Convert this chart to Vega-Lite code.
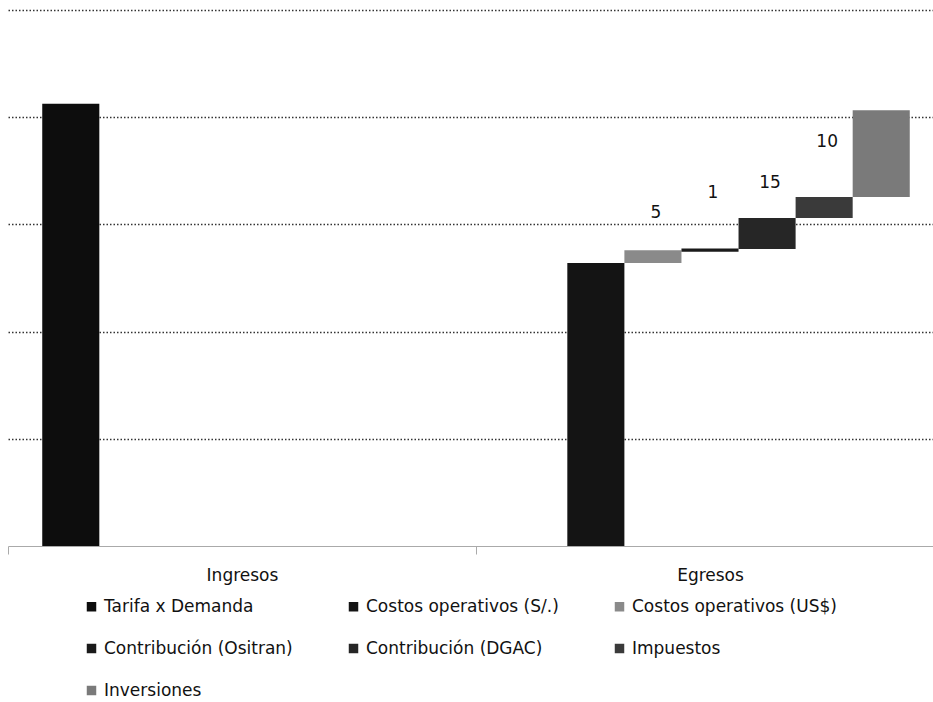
{
  "$schema": "https://vega.github.io/schema/vega-lite/v6.json",
  "autosize": "none",
  "width": 933,
  "height": 536,
  "padding": {"top": 10, "left": 0, "right": 0, "bottom": 156},
  "background": "white",
  "config": {
    "font": "DejaVu Sans",
    "view": {"stroke": null}
  },
  "datasets": {
    "bars": [
      {"category": "Ingresos", "series": "Tarifa x Demanda", "start": 0, "end": 82.5},
      {"category": "Egresos", "series": "Costos operativos (S/.)", "start": 0, "end": 52.8},
      {"category": "Egresos", "series": "Costos operativos (US$)", "start": 52.8, "end": 55.2},
      {"category": "Egresos", "series": "Contribución (Ositran)", "start": 54.9, "end": 55.5},
      {"category": "Egresos", "series": "Contribución (DGAC)", "start": 55.4, "end": 61.2},
      {"category": "Egresos", "series": "Impuestos", "start": 61.2, "end": 65.1},
      {"category": "Egresos", "series": "Inversiones", "start": 65.1, "end": 81.3}
    ],
    "labels": [
      {"category": "Egresos", "series": "Costos operativos (US$)", "pos": 62.1, "text": "5"},
      {"category": "Egresos", "series": "Contribución (Ositran)", "pos": 65.9, "text": "1"},
      {"category": "Egresos", "series": "Contribución (DGAC)", "pos": 67.7, "text": "15"},
      {"category": "Egresos", "series": "Impuestos", "pos": 75.4, "text": "10"}
    ]
  },
  "layer": [
    {
      "data": {"name": "bars"},
      "mark": {"type": "bar"},
      "encoding": {
        "x": {
          "field": "category", "type": "nominal", "sort": ["Ingresos", "Egresos"],
          "scale": {"range": [8, 944], "paddingInner": 0, "paddingOuter": 0},
          "axis": {
            "title": null, "labelAngle": 0, "labelFontSize": 17, "labelColor": "#111",
            "labelPadding": 13, "domainColor": "#aaaaaa", "tickColor": "#aaaaaa",
            "tickBand": "extent", "tickSize": 8, "grid": false
          }
        },
        "xOffset": {
          "field": "series", "type": "nominal",
          "scale": {
            "domain": ["Tarifa x Demanda", "Costos operativos (S/.)", "Costos operativos (US$)", "Contribución (Ositran)", "Contribución (DGAC)", "Impuestos", "Inversiones"],
            "paddingInner": 0, "paddingOuter": 0.6
          }
        },
        "y": {
          "field": "start", "type": "quantitative",
          "scale": {"domain": [0, 100], "nice": false},
          "axis": {
            "title": null, "labels": false, "ticks": false, "domain": false,
            "values": [20, 40, 60, 80, 100],
            "gridColor": "#333333", "gridDash": [1.5, 2], "gridWidth": 1.4
          }
        },
        "y2": {"field": "end"},
        "color": {
          "field": "series", "type": "nominal",
          "scale": {
            "domain": ["Tarifa x Demanda", "Costos operativos (S/.)", "Costos operativos (US$)", "Contribución (Ositran)", "Contribución (DGAC)", "Impuestos", "Inversiones"],
            "range": ["#0d0d0d", "#141414", "#8a8a8a", "#1a1a1a", "#262626", "#3a3a3a", "#7a7a7a"]
          },
          "legend": {
            "title": null, "orient": "none", "legendX": 83, "legendY": 588,
            "direction": "horizontal", "columns": 3, "columnPadding": 52, "rowPadding": 24,
            "symbolType": "square", "symbolSize": 90, "symbolStrokeWidth": 0,
            "labelFontSize": 17, "labelColor": "#111", "labelOffset": 4, "labelLimit": 400,
            "padding": 0
          }
        }
      }
    },
    {
      "data": {"name": "labels"},
      "mark": {"type": "text", "fontSize": 17, "color": "#111", "baseline": "middle", "dx": 3},
      "encoding": {
        "x": {"field": "category", "type": "nominal", "sort": ["Ingresos", "Egresos"]},
        "xOffset": {"field": "series", "type": "nominal"},
        "y": {"field": "pos", "type": "quantitative"},
        "text": {"field": "text"}
      }
    }
  ]
}
